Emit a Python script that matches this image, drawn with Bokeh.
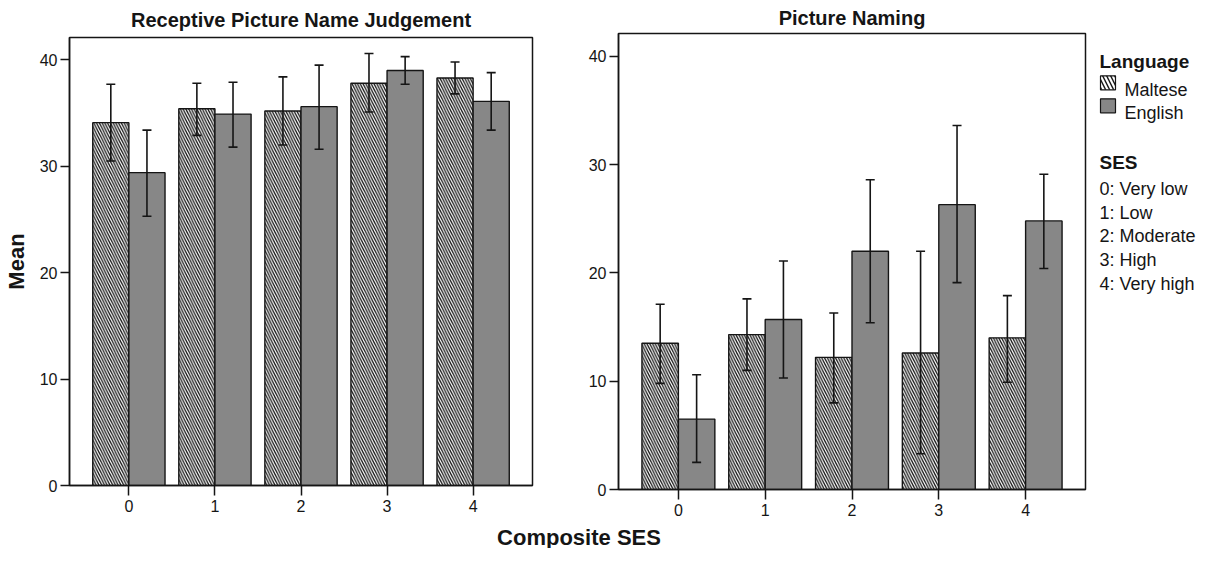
from bokeh.plotting import figure
from bokeh.models import Range1d, FixedTicker, Whisker, TeeHead, ColumnDataSource, Label
from bokeh.layouts import row, column
from bokeh.embed import file_html
from bokeh.resources import INLINE
from bokeh.core.properties import value

# ---------------- data ----------------
ses = [0, 1, 2, 3, 4]
ses_labels = ["0", "1", "2", "3", "4"]
languages = ["Maltese", "English"]
ses_legend = ["0: Very low", "1: Low", "2: Moderate", "3: High", "4: Very high"]
x_title = "Composite SES"
y_title = "Mean"

# Receptive Picture Name Judgement
rpj_maltese = [34.1, 35.4, 35.2, 37.8, 38.3]
rpj_maltese_lo = [30.5, 32.9, 32.0, 35.1, 36.8]
rpj_maltese_hi = [37.7, 37.8, 38.4, 40.6, 39.8]
rpj_english = [29.4, 34.9, 35.6, 39.0, 36.1]
rpj_english_lo = [25.3, 31.8, 31.6, 37.7, 33.4]
rpj_english_hi = [33.4, 37.9, 39.5, 40.3, 38.8]

# Picture Naming
pn_maltese = [13.5, 14.3, 12.2, 12.6, 14.0]
pn_maltese_lo = [9.8, 11.0, 8.0, 3.3, 9.9]
pn_maltese_hi = [17.1, 17.6, 16.3, 22.0, 17.9]
pn_english = [6.5, 15.7, 22.0, 26.3, 24.8]
pn_english_lo = [2.5, 10.3, 15.4, 19.1, 20.4]
pn_english_hi = [10.6, 21.1, 28.6, 33.6, 29.1]

y_ticks = [0, 10, 20, 30, 40]

# ---------------- style ----------------
FONT = "Liberation Sans"
INK = "#151515"
GREY = "#878787"
BAR_W = 0.42
HATCH = dict(hatch_pattern="left_diagonal_line", hatch_color=INK,
             hatch_weight=1.3, hatch_scale=5.5)
ROW_H = 522


def panel(title, m, m_lo, m_hi, e, e_lo, e_hi, width, bl, br, bt, bb,
          t_standoff, t_offset, ylabel=None):
    p = figure(width=width, height=ROW_H, output_backend="svg",
               toolbar_location=None, title=title, frame_align=False,
               x_range=Range1d(-0.69, 4.69), y_range=Range1d(0, 42.1),
               min_border_left=bl, min_border_right=br,
               min_border_top=bt, min_border_bottom=bb)
    p.title.align = "center"
    p.title.text_font = FONT
    p.title.text_font_size = "20px"
    p.title.text_font_style = "bold"
    p.title.text_color = INK
    p.title.standoff = t_standoff
    p.title.offset = t_offset

    xm = [s - BAR_W / 2 for s in ses]
    xe = [s + BAR_W / 2 for s in ses]
    src_m = ColumnDataSource(dict(x=xm, top=m, lo=m_lo, hi=m_hi))
    src_e = ColumnDataSource(dict(x=xe, top=e, lo=e_lo, hi=e_hi))

    p.vbar(x="x", top="top", bottom=0, width=BAR_W, source=src_m,
           fill_color="white", line_color=INK, line_width=1.4, **HATCH)
    p.vbar(x="x", top="top", bottom=0, width=BAR_W, source=src_e,
           fill_color=GREY, line_color=INK, line_width=1.4)

    for src in (src_m, src_e):
        w = Whisker(source=src, base="x", lower="lo", upper="hi",
                    line_color=INK, line_width=1.6, level="annotation",
                    upper_head=TeeHead(size=9, line_color=INK, line_width=1.6),
                    lower_head=TeeHead(size=9, line_color=INK, line_width=1.6))
        p.add_layout(w)

    p.grid.visible = False
    p.outline_line_color = INK
    p.outline_line_width = 1.5
    p.outline_line_alpha = 1

    p.xaxis.ticker = FixedTicker(ticks=ses)
    p.xaxis.major_label_overrides = {s: l for s, l in zip(ses, ses_labels)}
    p.yaxis.ticker = FixedTicker(ticks=y_ticks)
    for ax in (p.xaxis, p.yaxis):
        ax.axis_line_color = INK
        ax.axis_line_width = 1.5
        ax.major_tick_line_color = INK
        ax.major_tick_line_width = 1.5
        ax.major_tick_in = 0
        ax.minor_tick_in = 0
        ax.minor_tick_out = 0
        ax.major_label_text_font = FONT
        ax.major_label_text_font_size = "16px"
        ax.major_label_text_color = INK
    p.xaxis.major_tick_out = 10
    p.xaxis.major_label_standoff = 4
    p.yaxis.major_tick_out = 9
    p.yaxis.major_label_standoff = 3
    if ylabel:
        p.yaxis.axis_label = ylabel
        p.yaxis.axis_label_text_font = FONT
        p.yaxis.axis_label_text_font_size = "22px"
        p.yaxis.axis_label_text_font_style = "bold"
        p.yaxis.axis_label_text_color = INK
        p.yaxis.axis_label_standoff = 8
    return p


# frame: left panel 44..493 (page), right panel 40..497 (page)
p1 = panel("Receptive Picture Name Judgement", rpj_maltese, rpj_maltese_lo,
           rpj_maltese_hi, rpj_english, rpj_english_lo, rpj_english_hi,
           width=572, bl=64, br=40, bt=36, bb=ROW_H - 36 - 449,
           t_standoff=13, t_offset=-3, ylabel=y_title)
p2 = panel("Picture Naming", pn_maltese, pn_maltese_lo, pn_maltese_hi,
           pn_english, pn_english_lo, pn_english_hi,
           width=518, bl=46, br=5, bt=32, bb=ROW_H - 32 - 457,
           t_standoff=9, t_offset=8)

# ---------------- legend panel (pixel-like coordinates, y from top) ----------------
LG_W = 106
lg = figure(width=LG_W, height=ROW_H, output_backend="svg", toolbar_location=None,
            frame_align=False, title=None,
            x_range=Range1d(0, LG_W), y_range=Range1d(ROW_H, 0),
            x_axis_type=None, y_axis_type=None,
            min_border_left=0, min_border_right=0,
            min_border_top=0, min_border_bottom=0)
lg.outline_line_color = None
lg.grid.visible = False

head_y = 60.5
item_y0 = 89.3
item_dy = 23
ses_head_y = 162
ses_y0 = 188.7
ses_dy = 23.6

lg.text(x=[9], y=[head_y], text=["Language"], text_font=value(FONT),
        text_font_size="19px", text_font_style="bold", text_color=INK,
        text_baseline="alphabetic")
sw_y = [item_y0 + i * item_dy for i in range(len(languages))]
lg.quad(left=[10], right=[25], top=[sw_y[0] - 14], bottom=[sw_y[0]],
        fill_color="white", line_color=INK, line_width=1.2,
        hatch_pattern="left_diagonal_line", hatch_color=INK,
        hatch_weight=1.4, hatch_scale=8)
lg.quad(left=[10], right=[25], top=[sw_y[1] - 14], bottom=[sw_y[1]],
        fill_color=GREY, line_color=INK, line_width=1.2)
lg.text(x=[34] * len(languages), y=sw_y, text=languages, text_font=value(FONT),
        text_font_size="18px", text_color=INK, text_baseline="alphabetic")

lg.text(x=[9], y=[ses_head_y], text=["SES"], text_font=value(FONT),
        text_font_size="19px", text_font_style="bold", text_color=INK,
        text_baseline="alphabetic")
lg.text(x=[9] * len(ses_legend), y=[ses_y0 + i * ses_dy for i in range(len(ses_legend))],
        text=ses_legend, text_font=value(FONT), text_font_size="18px",
        text_color=INK, text_baseline="alphabetic")

# ---------------- shared x-axis title (transparent strip overlapping the row) ----------------
BT_OVER = 24
BT_H = 50
BT_W = 572 + 518 + LG_W
bt = figure(width=BT_W, height=BT_H, output_backend="svg", toolbar_location=None,
            frame_align=False, title=None,
            x_range=Range1d(0, BT_W), y_range=Range1d(BT_H, 0),
            x_axis_type=None, y_axis_type=None,
            min_border_left=0, min_border_right=0,
            min_border_top=0, min_border_bottom=0)
bt.margin = (-BT_OVER, 0, 0, 0)
bt.outline_line_color = None
bt.background_fill_color = None
bt.border_fill_color = None
bt.grid.visible = False
bt.add_layout(Label(x=578.5, y=39, text=x_title, text_font=FONT,
                    text_font_size="22px", text_font_style="bold",
                    text_color=INK, text_align="center",
                    text_baseline="alphabetic"))

layout = column(row(p1, p2, lg, spacing=0), bt, spacing=0)

open("out.html", "w").write(file_html(layout, INLINE))
